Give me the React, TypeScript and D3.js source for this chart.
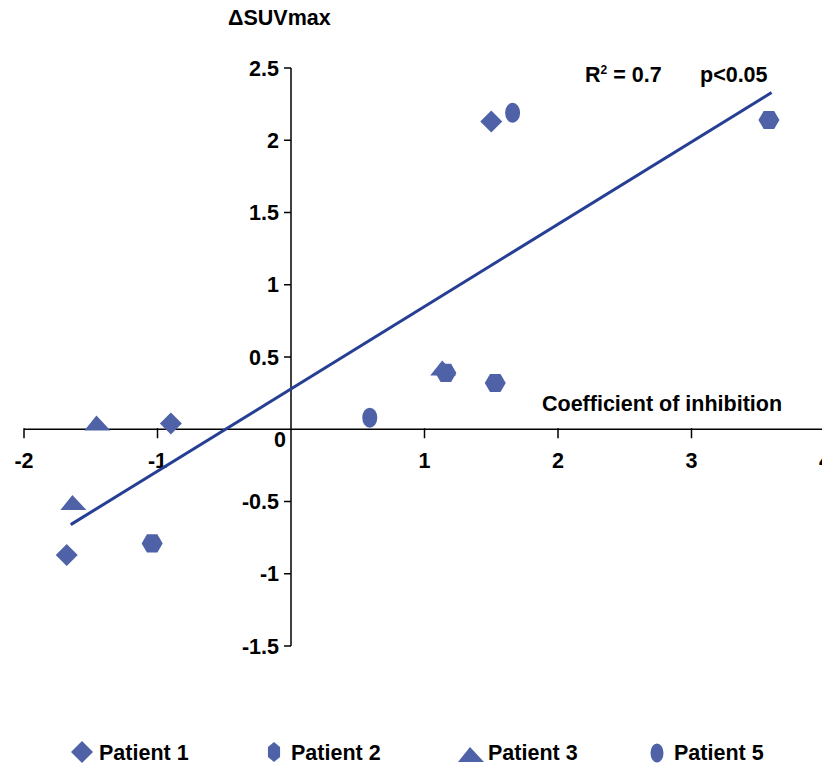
import React from 'react';
import * as d3 from 'd3';

// points, one array per patient
const patient1 = [{ x: -0.9, y: 0.04 }, { x: -1.68, y: -0.87 }, { x: 1.5, y: 2.13 }];
const patient2 = [{ x: -1.04, y: -0.79 }, { x: 1.16, y: 0.39 }, { x: 1.53, y: 0.32 }, { x: 3.58, y: 2.14 }];
const patient3 = [{ x: -1.45, y: 0.04 }, { x: -1.63, y: -0.51 }, { x: 1.14, y: 0.42 }];
const patient5 = [{ x: 1.66, y: 2.19 }, { x: 0.59, y: 0.08 }];

// fitted line end points
const fitLine = [{ x: -1.65, y: -0.66 }, { x: 3.6, y: 2.33 }];

const xTicks = [-2, -1, 1, 2, 3, 4];
const yTicks = [2.5, 2, 1.5, 1, 0.5, -0.5, -1, -1.5];

const legendLabels = ['Patient 1', 'Patient 2', 'Patient 3', 'Patient 5'];

const width = 822;
const height = 766;
const markerColor = '#4f62a7';
const lineColor = '#263f94';
const font = '"Liberation Sans", Arial, sans-serif';
const fs = 21.5;

const hex = (rx: number, ry: number, offset: number) =>
  'M' + d3.range(6).map(i => {
    const a = (Math.PI / 3) * i + offset;
    return [rx * Math.cos(a), ry * Math.sin(a)].join(',');
  }).join('L') + 'Z';

const App = () => {
  // scales
  const xScale = d3.scaleLinear().domain([-2, 4]).range([24, 825]);
  const yScale = d3.scaleLinear().domain([-1.5, 2.5]).range([646, 68]);

  const x0 = xScale(0);
  const y0 = yScale(0);

  const line = d3.line<{ x: number; y: number }>()
    .x(d => xScale(d.x))
    .y(d => yScale(d.y));

  const diamond = 'M0,-11 L11,0 L0,11 L-11,0 Z';
  const triangle = 'M-13,7 L-1,-8 L13,7 Z';
  const hexPlot = hex(10.5, 10.5, 0);
  const hexLegend = hex(7, 10, Math.PI / 2);

  const marker = (kind: number, key: string, tx: number, ty: number, legend = false) => {
    const t = `translate(${tx},${ty})`;
    if (kind === 0) return <path key={key} d={diamond} transform={t} fill={markerColor} />;
    if (kind === 1) return <path key={key} d={legend ? hexLegend : hexPlot} transform={t} fill={markerColor} />;
    if (kind === 2) return <path key={key} d={triangle} transform={t} fill={markerColor} />;
    return <ellipse key={key} cx={tx} cy={ty} rx={legend ? 6.5 : 7.5} ry={legend ? 9.5 : 10} fill={markerColor} />;
  };

  const series = [patient1, patient2, patient3, patient5];
  const legendX = [82, 274, 471, 657];
  const legendY = [752, 752, 755, 753];

  return (
    <svg width={width} height={height} style={{ position: 'absolute', left: 0, top: 0, fontFamily: font }}>
      <rect width={width} height={height} fill='white' />

      {/* axes */}
      <line x1={x0} x2={x0} y1={yScale(2.5)} y2={yScale(-1.5)} stroke='black' strokeWidth={1.5} />
      <line x1={xScale(-2)} x2={xScale(4)} y1={y0} y2={y0} stroke='black' strokeWidth={1.5} />

      {yTicks.map(t => (
        <g key={'y' + t}>
          <line x1={x0 - 7} x2={x0} y1={yScale(t)} y2={yScale(t)} stroke='black' strokeWidth={1.5} />
          <text x={x0 - 12} y={yScale(t)} dy='0.36em' textAnchor='end' fontSize={fs} fontWeight='bold'>{t}</text>
        </g>
      ))}
      {xTicks.map(t => (
        <g key={'x' + t}>
          <line x1={xScale(t)} x2={xScale(t)} y1={y0 - 1} y2={y0 + 9} stroke='black' strokeWidth={1.5} />
          <text x={xScale(t)} y={y0 + 39} textAnchor='middle' fontSize={fs} fontWeight='bold'>{t}</text>
        </g>
      ))}
      <text x={x0 - 11} y={y0 + 18} textAnchor='middle' fontSize={fs} fontWeight='bold'>0</text>

      <text x={228} y={25} fontSize={fs} fontWeight='bold'>ΔSUVmax</text>
      <text x={542} y={411} fontSize={fs} fontWeight='bold'>Coefficient of inhibition</text>
      <text x={585} y={82} fontSize={fs} fontWeight='bold'>
        R<tspan dy={-8} fontSize={12}>2</tspan><tspan dy={8}> = 0.7</tspan>
      </text>
      <text x={700} y={82} fontSize={fs} fontWeight='bold'>p&lt;0.05</text>

      {/* regression line */}
      <path d={line(fitLine) ?? ''} stroke={lineColor} strokeWidth={3} fill='none' />

      {/* points */}
      {series.map((s, k) => s.map((d, i) => marker(k, `p${k}-${i}`, xScale(d.x), yScale(d.y))))}

      {/* legend */}
      {legendLabels.map((lab, k) => (
        <g key={lab}>
          {marker(k, 'l' + k, legendX[k], legendY[k], true)}
          <text x={legendX[k] + 17} y={760} fontSize={fs} fontWeight='bold'>{lab}</text>
        </g>
      ))}
    </svg>
  );
};

export default App;
